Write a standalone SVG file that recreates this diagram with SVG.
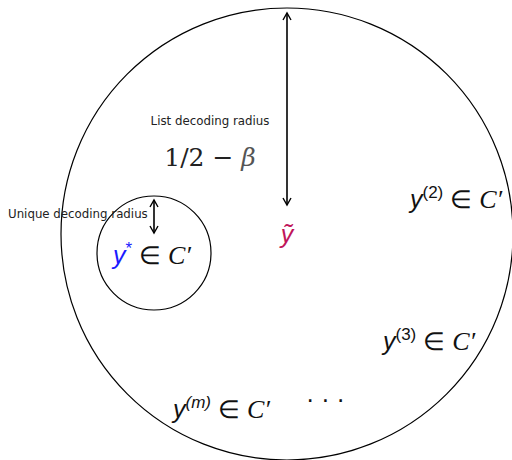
<svg xmlns="http://www.w3.org/2000/svg" width="512" height="460" viewBox="0 0 512 460">
<style>
.c{fill:none;stroke:#000;stroke-width:1.2}
.a{stroke:#000;stroke-width:1.6;fill:none}
.s{font-family:"DejaVu Sans","Liberation Sans",sans-serif;font-size:11.8px;fill:#222}
.m{font-family:"Liberation Sans",sans-serif;font-size:25px;fill:#111}
.i{font-style:italic}
.cal{font-family:"Liberation Serif",serif;font-style:italic;font-size:26px}
.sup{font-size:17px}
</style>
<defs>
<marker id="h" markerWidth="10" markerHeight="10" refX="8" refY="5" orient="auto-start-reverse" markerUnits="userSpaceOnUse">
<path d="M1,1 L8,5 L1,9" fill="none" stroke="#000" stroke-width="1.4"/>
</marker>
</defs>
<g id="outer"><circle class="c" cx="287" cy="234" r="226"/></g>
<g id="inner"><circle class="c" cx="154" cy="253" r="57"/></g>
<g id="connectors">
<line class="a" x1="287" y1="205" x2="287" y2="13" marker-start="url(#h)" marker-end="url(#h)"/>
<line class="a" x1="154" y1="233" x2="154" y2="200" stroke-width="1.1" marker-start="url(#h)" marker-end="url(#h)"/>
</g>
<g id="labels">
<text class="s" x="210" y="125" text-anchor="middle">List decoding radius</text>
<text x="210" y="166" text-anchor="middle" font-family="DejaVu Serif,Liberation Serif,serif" font-size="25" fill="#222">1/2 − <tspan font-style="italic" style="fill:#555">β</tspan></text>
<text class="s" x="8" y="218">Unique decoding radius</text>
</g>
<g id="ystar"><text class="m" x="113" y="264"><tspan class="i" style="fill:#1a1aff">y</tspan><tspan class="sup" dy="-10" style="fill:#1a1aff">*</tspan><tspan dy="10"> ∈ </tspan><tspan class="cal">C′</tspan></text></g>
<g id="ytilde"><text class="m i" x="287" y="243" text-anchor="middle" style="fill:#c0155a">ỹ</text></g>
<g id="y2"><text class="m" x="410" y="208"><tspan class="i">y</tspan><tspan class="sup" dy="-10">(2)</tspan><tspan dy="10"> ∈ </tspan><tspan class="cal">C′</tspan></text></g>
<g id="y3"><text class="m" x="383" y="350"><tspan class="i">y</tspan><tspan class="sup" dy="-10">(3)</tspan><tspan dy="10"> ∈ </tspan><tspan class="cal">C′</tspan></text></g>
<g id="ym"><text class="m" x="173" y="418"><tspan class="i">y</tspan><tspan class="sup i" dy="-10">(m)</tspan><tspan dy="10"> ∈ </tspan><tspan class="cal">C′</tspan></text></g>
<g id="dots"><text class="m" x="306" y="408">· · ·</text></g>
</svg>
